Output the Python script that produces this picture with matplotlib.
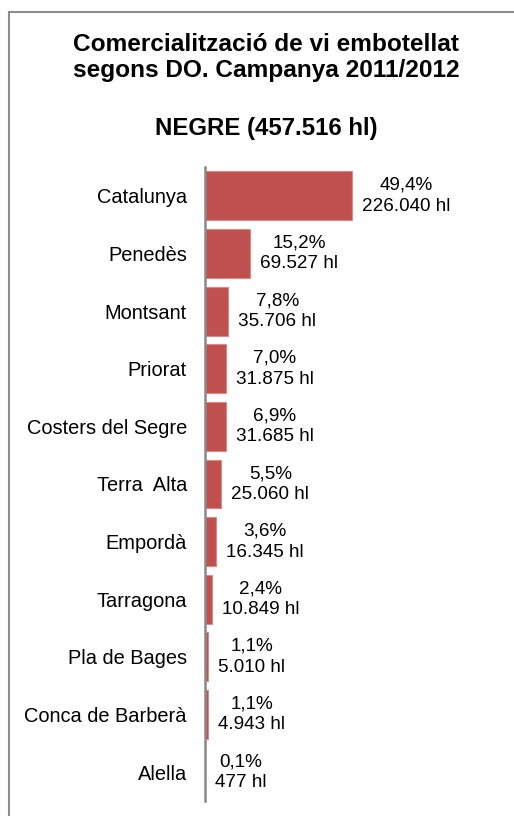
import matplotlib
matplotlib.use("Agg")
import matplotlib.pyplot as plt
from matplotlib.lines import Line2D

categories = ["Catalunya", "Penedès", "Montsant", "Priorat", "Costers del Segre",
              "Terra  Alta", "Empordà", "Tarragona", "Pla de Bages",
              "Conca de Barberà", "Alella"]
volumes_hl = [226040, 69527, 35706, 31875, 31685, 25060, 16345, 10849, 5010, 4943, 477]
percent_labels = ["49,4%", "15,2%", "7,8%", "7,0%", "6,9%", "5,5%", "3,6%",
                  "2,4%", "1,1%", "1,1%", "0,1%"]
volume_labels = ["226.040", "69.527", "35.706", "31.875", "31.685", "25.060",
                 "16.345", "10.849", "5.010", "4.943", "477"]

title = "Comercialització de vi embotellat\nsegons DO. Campanya 2011/2012"
subtitle = "NEGRE (457.516 hl)"

plt.rcParams['font.family'] = ['Liberation Sans', 'DejaVu Sans']

W, H = 514, 816
fig = plt.figure(figsize=(W / 100, H / 100), dpi=100)

# outer frame (top and left edges visible)
fig.add_artist(Line2D([9 / W, 1.0], [1 - 12 / H, 1 - 12 / H], transform=fig.transFigure,
                      color="#8c8c8c", linewidth=1.5))
fig.add_artist(Line2D([9 / W, 9 / W], [0.0, 1 - 12 / H], transform=fig.transFigure,
                      color="#8c8c8c", linewidth=1.5))

fig.text(266 / W, 1 - 57.5 / H, title, ha="center", va="center", fontsize=17.6,
         fontweight="bold", linespacing=1.15)
fig.text(266 / W, 1 - 128 / H, subtitle, ha="center", va="center", fontsize=17.3,
         fontweight="bold")

ax_left, ax_right = 205, 505
ax_top, ax_bottom = 167, 801
ax = fig.add_axes([ax_left / W, 1 - ax_bottom / H, (ax_right - ax_left) / W,
                   (ax_bottom - ax_top) / H])

y = list(range(len(categories)))
ax.barh(y, volumes_hl, height=0.85, color="#C0504D", edgecolor="#d98a88", linewidth=0.8)
ax.set_ylim(len(categories) - 0.5, -0.5)
ax.set_xlim(0, 461300)

ax.set_yticks(y)
ax.set_yticklabels(categories, fontsize=14.4)
ax.tick_params(axis="y", length=0, pad=13)
ax.set_xticks([])
for s in ["top", "right", "bottom"]:
    ax.spines[s].set_visible(False)
ax.spines["left"].set_color("#898989")
ax.spines["left"].set_linewidth(1.8)

for yi, v, p, vl in zip(y, volumes_hl, percent_labels, volume_labels):
    ax.annotate(f"{p}\n{vl} hl", xy=(v, yi), xytext=(10, 0), textcoords="offset pixels",
                ha="left", va="center", multialignment="center", fontsize=13.6,
                linespacing=1.3)

fig.savefig("out.png", dpi=100)
